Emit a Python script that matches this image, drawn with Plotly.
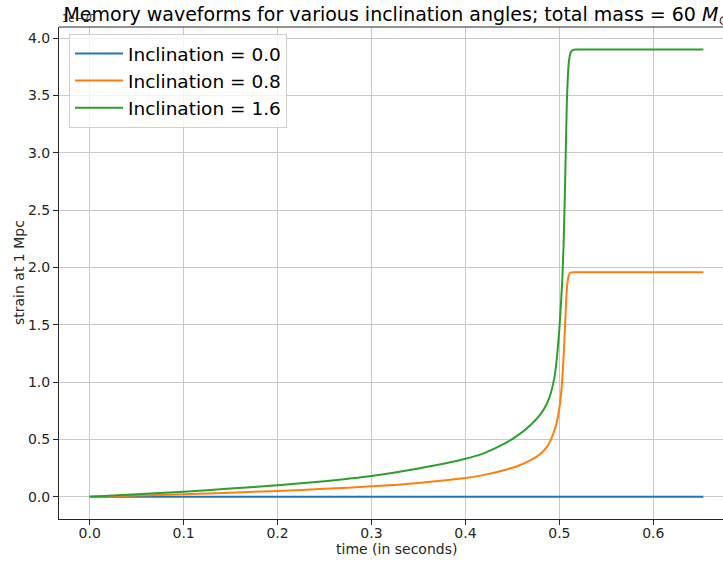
import plotly.graph_objects as go

# Memory (non-oscillatory) strain at 1 Mpc for a 60 solar-mass binary,
# shown for three inclination angles.
t_incl_00 = [0.0, 0.6533]
h_incl_00 = [0.0, 0.0]

t_incl_08 = [0.0, 0.05, 0.1, 0.15, 0.2, 0.25, 0.3, 0.35, 0.4, 0.42, 0.44, 0.455,
             0.47, 0.48, 0.486, 0.49, 0.4935, 0.497, 0.5, 0.5025, 0.5045, 0.506,
             0.507, 0.508, 0.509, 0.51, 0.511, 0.5125, 0.5145, 0.517, 0.53, 0.6533]
h_incl_08 = [0.0, 0.009, 0.02, 0.034, 0.05, 0.068, 0.09, 0.12, 0.163, 0.19, 0.228, 0.265,
             0.32, 0.375, 0.425, 0.48, 0.55, 0.64, 0.77, 0.96, 1.22, 1.48,
             1.67, 1.81, 1.89, 1.93, 1.946, 1.954, 1.958, 1.958, 1.958, 1.958]

t_incl_16 = [0.0, 0.05, 0.1, 0.15, 0.2, 0.25, 0.3, 0.35, 0.4, 0.42, 0.44, 0.455,
             0.47, 0.48, 0.486, 0.49, 0.4935, 0.4955, 0.4978, 0.5, 0.5018, 0.5032,
             0.5045, 0.5057, 0.5068, 0.508, 0.509, 0.51, 0.511, 0.512, 0.5135,
             0.5155, 0.518, 0.53, 0.6533]
h_incl_16 = [0.0, 0.02, 0.043, 0.07, 0.1, 0.135, 0.18, 0.245, 0.33, 0.38, 0.455, 0.53,
             0.63, 0.72, 0.8, 0.88, 0.99, 1.08, 1.25, 1.46, 1.7, 1.91,
             2.2, 2.58, 3.0, 3.45, 3.66, 3.78, 3.845, 3.875, 3.892,
             3.899, 3.9, 3.9, 3.9]

series_names = ["Inclination = 0.0", "Inclination = 0.8", "Inclination = 1.6"]
series_colors = ["#1f77b4", "#ff7f0e", "#2ca02c"]

x_ticks = [0.0, 0.1, 0.2, 0.3, 0.4, 0.5, 0.6]
y_ticks = [0.0, 0.5, 1.0, 1.5, 2.0, 2.5, 3.0, 3.5, 4.0]

FONT = "DejaVu Sans"
AXC = "#262626"

fig = go.Figure()
for t, h, name, col in zip([t_incl_00, t_incl_08, t_incl_16],
                           [h_incl_00, h_incl_08, h_incl_16],
                           series_names, series_colors):
    fig.add_trace(go.Scatter(x=t, y=h, mode="lines", name=name,
                             line=dict(color=col, width=2, shape="spline", smoothing=0.6)))

W, H = 723, 562
L, R, T, B = 59, 0, 27, 43
pw = W - L - R
ph = H - T - B

fig.update_layout(
    width=W, height=H,
    margin=dict(l=L, r=R, t=T, b=B, pad=0),
    paper_bgcolor="white", plot_bgcolor="white",
    font=dict(family=FONT, size=14, color=AXC),
    showlegend=True,
    legend=dict(x=(69 - L) / pw, y=1 - (34 - T) / ph, xanchor="left", yanchor="top",
                bgcolor="rgba(255,255,255,0.8)", bordercolor="#d0d0d0", borderwidth=1,
                font=dict(family=FONT, size=18.5, color="black"),
                itemwidth=48, entrywidth=168, entrywidthmode="pixels", tracegroupgap=0),
    title=dict(text="Memory waveforms for various inclination angles; total mass = 60 <i>M</i><sub>⊙</sub>",
               x=396.5 / W, xref="container", xanchor="center",
               y=1 - 14 / H, yref="container", yanchor="middle",
               font=dict(family=FONT, size=19, color="black")),
    xaxis=dict(range=[-0.03267, 0.6742], tickvals=x_ticks, tickformat=".1f",
               showgrid=True, gridcolor="#c8c8c8", gridwidth=1, zeroline=False,
               showline=True, linecolor=AXC, linewidth=1,
               ticks="outside", ticklen=5, tickcolor=AXC, tickwidth=1,
               ticklabelstandoff=-4,
               tickfont=dict(family=FONT, size=14, color=AXC)),
    yaxis=dict(range=[-0.195, 4.097], tickvals=y_ticks, tickformat=".1f",
               showgrid=True, gridcolor="#c8c8c8", gridwidth=1, zeroline=False,
               showline=True, linecolor=AXC, linewidth=1,
               ticks="outside", ticklen=5, tickcolor=AXC, tickwidth=1,
               tickfont=dict(family=FONT, size=14, color=AXC)),
)

# top spine of the axes box
fig.add_shape(type="line", xref="paper", yref="paper", x0=0, x1=1, y0=1, y1=1,
              line=dict(color=AXC, width=1))

# axis titles and the exponent marker of the strain axis
fig.add_annotation(text="time (in seconds)", xref="paper", yref="paper",
                   x=(396.5 - L) / pw, y=-(549 - (H - B)) / ph, xanchor="center", yanchor="middle",
                   showarrow=False, font=dict(family=FONT, size=14, color=AXC))
fig.add_annotation(text="strain at 1 Mpc", xref="paper", yref="paper",
                   x=(19 - L) / pw, y=0.5, xanchor="center", yanchor="middle", textangle=-90,
                   showarrow=False, font=dict(family=FONT, size=14, color=AXC))
fig.add_annotation(text="1e−20", xref="paper", yref="paper",
                   x=(60 - L) / pw, y=1 + (27 - 19) / ph, xanchor="left", yanchor="middle",
                   showarrow=False, font=dict(family=FONT, size=10, color=AXC))

fig.write_html("out.html")
